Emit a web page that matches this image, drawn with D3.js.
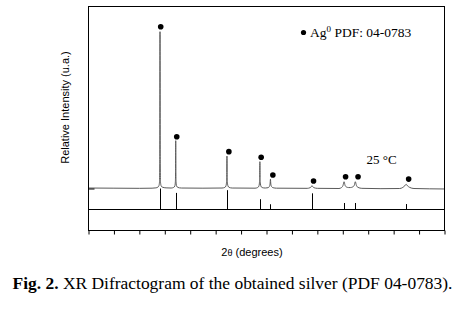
<!DOCTYPE html>
<html>
<head>
<meta charset="utf-8">
<script src="https://cdn.jsdelivr.net/npm/d3@7"></script>
<style>
    body { margin: 0; background: #fff; }
    svg { display: block; }
</style>
</head>
<body>
<div id="chart"></div>
<script>
// Axis ticks (2 theta, degrees)
const tickAngles = [10, 20, 30, 40, 50, 60, 70, 80, 90, 100, 110, 120, 130, 140, 150];

// Reference pattern Ag PDF 04-0783 (2 theta, relative intensity of the sticks)
const refAngles = [38.12, 44.30, 64.45, 77.40, 81.55, 97.89, 110.50, 114.93, 134.90];
const refIntensities = [100, 79, 92, 49, 25, 77, 31, 31, 26];

// Peak markers (dots above the peaks)
const markerAngles = [38.4, 44.7, 65.2, 77.9, 82.5, 98.5, 111.1, 116.0, 135.9];
const markerIntensities = [103.2, 33.0, 23.5, 19.9, 8.6, 4.8, 7.5, 7.5, 6.0];

const pattern = [
    [10, 0.3], [20, 0.2], [30, 0.1], [35, 0.2], [36.5, 0.4], [37.3, 0.9], [37.7, 1.8],
    [37.92, 4], [38.03, 15], [38.12, 100], [38.21, 15], [38.32, 4], [38.55, 1.8], [39, 0.9],
    [40.5, 0.4], [42.5, 0.3], [43.5, 0.7], [43.95, 1.6], [44.15, 4], [44.24, 10], [44.30, 30.5],
    [44.36, 10], [44.45, 4], [44.65, 1.6], [45.1, 0.7], [46.5, 0.3], [55, 0.2], [62.5, 0.3],
    [63.6, 0.7], [64.05, 1.6], [64.28, 4], [64.38, 9], [64.45, 20.7], [64.52, 9], [64.62, 4],
    [64.85, 1.6], [65.3, 0.7], [66.5, 0.3], [75.5, 0.2], [76.5, 0.6], [77.0, 1.5], [77.24, 4],
    [77.34, 8], [77.40, 17.1], [77.46, 8], [77.56, 4], [77.8, 1.5], [78.3, 0.6], [79.5, 0.3],
    [80.6, 0.5], [81.1, 1.2], [81.4, 2.8], [81.55, 5.9], [81.7, 2.8], [82.0, 1.2], [82.6, 0.5],
    [84, 0.2], [96, 0.1], [97.1, 0.5], [97.6, 1.1], [97.89, 1.8], [98.2, 1.1], [98.7, 0.5],
    [100, 0.1], [108.5, 0.0], [109.5, 0.6], [110.1, 2], [110.5, 4.3], [110.9, 2], [111.5, 0.9],
    [112.3, 0.6], [113.0, 0.6], [113.9, 1.0], [114.5, 2], [114.93, 4.3], [115.35, 2], [116, 0.7],
    [117.5, 0.1], [125, -0.1], [132.4, 0], [133.6, 0.7], [134.4, 1.8], [134.9, 2.7], [135.4, 1.8],
    [136.3, 0.7], [138, 0], [150, -0.3]
];

// Layout
const width = 460;
const height = 311;
const frameLeft = 88.5;
const frameRight = 444.5;
const frameTop = 6.5;
const baseline = 188.5;   // zero intensity of the measured pattern
const divider = 209.5;    // line between the pattern and the reference sticks
const frameBottom = 230.5;

const svg = d3.select('#chart')
    .append('svg')
    .attr('width', width)
    .attr('height', height);

svg.append('rect')
    .attr('width', width)
    .attr('height', height)
    .attr('fill', '#fff');

// Scales
const x = d3.scaleLinear()
    .domain([10, 150])
    .range([frameLeft, frameRight]);

const y = d3.scaleLinear()
    .domain([0, 100])
    .range([baseline, 31.7]);

const yRef = d3.scaleLinear()
    .domain([0, 100])
    .range([divider, baseline]);

// Measured pattern
const line = d3.line()
    .x(d => x(d[0]))
    .y(d => y(d[1]))
    .curve(d3.curveMonotoneX);

svg.append('path')
    .datum(pattern)
    .attr('fill', 'none')
    .attr('stroke', '#5a5a5a')
    .attr('stroke-width', 1)
    .attr('d', line);

// Reference sticks
svg.append('g')
    .selectAll('line')
    .data(refAngles)
    .join('line')
    .attr('x1', d => Math.round(x(d)) + 0.5)
    .attr('x2', d => Math.round(x(d)) + 0.5)
    .attr('y1', divider)
    .attr('y2', (d, i) => yRef(refIntensities[i]))
    .attr('stroke', '#000')
    .attr('stroke-width', 1);

// Peak markers
svg.append('g')
    .selectAll('circle')
    .data(markerAngles)
    .join('circle')
    .attr('cx', d => x(d))
    .attr('cy', (d, i) => y(markerIntensities[i]))
    .attr('r', 2.8)
    .attr('fill', '#000');

// Frame and divider
svg.append('rect')
    .attr('x', frameLeft)
    .attr('y', frameTop)
    .attr('width', frameRight - frameLeft)
    .attr('height', frameBottom - frameTop)
    .attr('fill', 'none')
    .attr('stroke', '#000');

svg.append('line')
    .attr('x1', frameLeft)
    .attr('x2', frameRight)
    .attr('y1', divider)
    .attr('y2', divider)
    .attr('stroke', '#000');

// X axis ticks (labels are blank in the figure)
svg.append('g')
    .attr('transform', `translate(0,${frameBottom})`)
    .call(d3.axisBottom(x).tickValues(tickAngles).tickSize(4).tickFormat(''))
    .call(g => g.select('.domain').remove());

// Y axis inward tick at zero
svg.append('g')
    .attr('transform', `translate(${frameLeft},0)`)
    .call(d3.axisRight(y).tickValues([0]).tickSize(6).tickFormat(''))
    .call(g => g.select('.domain').remove());

// Axis titles
svg.append('text')
    .attr('transform', 'translate(69,107.5) rotate(-90)')
    .attr('text-anchor', 'middle')
    .attr('font-family', 'Liberation Sans, Arial, sans-serif')
    .attr('font-size', 11)
    .text('Relative Intensity (u.a.)');

const xTitle = svg.append('text')
    .attr('x', 252)
    .attr('y', 256)
    .attr('text-anchor', 'middle')
    .attr('font-family', 'Liberation Sans, Arial, sans-serif')
    .attr('font-size', 11);
xTitle.append('tspan').text('2');
xTitle.append('tspan').attr('font-size', 9).text('θ');
xTitle.append('tspan').text(' (degrees)');

// Legend
svg.append('circle')
    .attr('cx', 303.5)
    .attr('cy', 32.5)
    .attr('r', 2.6)
    .attr('fill', '#000');

const legend = svg.append('text')
    .attr('x', 310)
    .attr('y', 37)
    .attr('font-family', 'Liberation Serif, Times New Roman, serif')
    .attr('font-size', 13.5);
legend.append('tspan').text('Ag');
legend.append('tspan').attr('font-size', 9).attr('dy', -5).text('0');
legend.append('tspan').attr('dy', 5).text(' PDF: 04-0783');

// Temperature
svg.append('text')
    .attr('x', 366.5)
    .attr('y', 164)
    .attr('font-family', 'Liberation Serif, Times New Roman, serif')
    .attr('font-size', 13)
    .text('25 °C');

// Caption
const caption = svg.append('text')
    .attr('x', 12.5)
    .attr('y', 289)
    .attr('font-family', 'Liberation Serif, Times New Roman, serif')
    .attr('font-size', 16)
    .attr('textLength', 440)
    .attr('lengthAdjust', 'spacingAndGlyphs');
caption.append('tspan').attr('font-weight', 'bold').text('Fig. 2.');
caption.append('tspan').text(' XR Difractogram of the obtained silver (PDF 04-0783).');
</script>
</body>
</html>
